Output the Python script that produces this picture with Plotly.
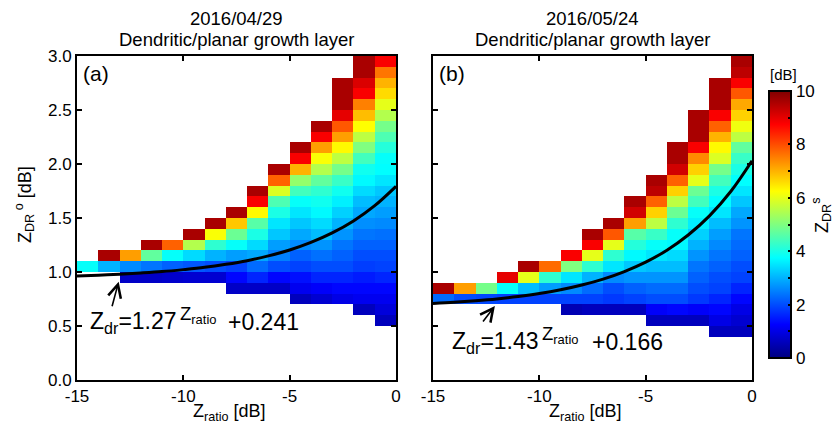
import plotly.graph_objects as go

# ---------------- data ----------------
X_CENTERS = [-14.5, -13.5, -12.5, -11.5, -10.5, -9.5, -8.5, -7.5,
             -6.5, -5.5, -4.5, -3.5, -2.5, -1.5, -0.5]
ROW_HEIGHT = 0.1
N_ROWS = 30

# panel (a): bottom edge of each column and cell values (bottom -> top), Z_DR^s [dB]
A_BOTTOM = [1.0, 1.0, 0.9, 0.9, 0.9, 0.9, 0.9, 0.8, 0.8, 0.8, 0.7, 0.7, 0.7, 0.6, 0.5]
A_VALUES = [
    [3.8],
    [3.0, 9.6],
    [0.7, 2.6, 7.2],
    [0.7, 2.4, 4.7, 9.6],
    [0.75, 2.2, 3.8, 7.8],
    [0.8, 2.1, 3.4, 5.5, 9.6],
    [0.8, 2.0, 3.0, 4.2, 6.2, 9.6],
    [0.7, 1.3, 1.9, 2.8, 3.8, 4.8, 6.8, 9.6],
    [0.7, 1.6, 2.3, 2.9, 3.4, 4.0, 4.6, 6.3, 8.8, 9.6],
    [0.7, 1.3, 2.0, 2.5, 2.8, 3.2, 3.5, 4.0, 4.5, 5.9, 7.8, 9.6],
    [0.6, 1.1, 1.4, 1.9, 2.2, 2.6, 2.9, 3.2, 3.5, 3.8, 4.4, 5.2, 7.0, 8.8, 9.6],
    [0.8, 1.2, 1.6, 2.0, 2.35, 2.7, 3.1, 3.4, 3.7, 3.9, 4.2, 4.7, 5.5, 6.2, 7.2, 8.8, 9.6],
    [1.0, 1.3, 1.6, 2.0, 2.2, 2.4, 2.7, 3.0, 3.3, 3.6, 3.9, 4.3, 4.9, 5.6, 6.3, 7.2, 7.9,
     9.0, 9.6, 9.6, 9.6],
    [0.6, 1.1, 1.3, 1.5, 1.85, 2.0, 2.2, 2.4, 2.65, 2.9, 3.1, 3.4, 3.7, 3.9, 4.4, 5.0,
     5.6, 6.25, 6.9, 7.5, 8.8, 9.1, 9.6, 9.6],
    [0.6, 0.9, 1.1, 1.3, 1.6, 1.9, 2.0, 2.2, 2.35, 2.6, 2.8, 3.0, 3.2, 3.5, 3.75, 3.8,
     4.1, 4.5, 4.9, 5.5, 6.0, 6.6, 7.0, 7.6, 8.8],
]

# panel (b)
B_BOTTOM = [0.7, 0.7, 0.7, 0.7, 0.7, 0.7, 0.6, 0.6, 0.6, 0.6, 0.5, 0.5, 0.5, 0.4, 0.4]
B_VALUES = [
    [2.3, 9.6],
    [2.0, 7.2],
    [1.95, 4.9],
    [1.9, 3.8, 9.0],
    [1.9, 3.1, 6.0, 9.6],
    [1.9, 2.8, 4.2, 7.7],
    [0.5, 1.9, 2.6, 3.5, 5.0, 8.8],
    [0.6, 1.9, 2.3, 3.0, 4.2, 6.0, 8.8, 9.6],
    [0.6, 1.8, 2.0, 2.6, 3.5, 4.2, 6.0, 7.9, 9.6],
    [0.6, 1.9, 2.2, 2.7, 3.2, 3.7, 4.1, 4.6, 7.2, 9.2, 9.6],
    [0.6, 1.2, 2.0, 2.3, 2.7, 3.1, 3.5, 3.8, 4.3, 5.6, 6.7, 7.8, 9.4, 9.6],
    [0.6, 1.3, 2.0, 2.3, 2.7, 3.1, 3.4, 3.7, 3.8, 4.2, 4.8, 5.6, 6.7, 7.8, 9.2, 9.6, 9.6],
    [0.6, 1.2, 1.8, 2.0, 2.2, 2.4, 2.7, 3.0, 3.3, 3.6, 3.8, 4.4, 4.8, 6.0, 6.7, 7.4, 8.8,
     9.6, 9.6, 9.6],
    [0.6, 1.0, 1.3, 1.6, 1.9, 2.0, 2.2, 2.4, 2.6, 2.8, 3.1, 3.5, 3.75, 4.0, 4.4, 4.9,
     5.9, 6.3, 7.0, 7.8, 8.8, 9.6, 9.6, 9.6],
    [0.6, 0.8, 1.0, 1.3, 1.6, 1.9, 2.0, 2.2, 2.3, 2.4, 2.7, 2.9, 3.2, 3.5, 3.75, 4.0,
     4.3, 4.7, 5.6, 6.1, 6.7, 7.1, 7.9, 8.8, 9.4, 9.6],
]

# fitted curves Z_dr (at each integer Z_ratio)
CURVE_X = [-15, -14, -13, -12, -11, -10, -9, -8, -7, -6, -5, -4, -3, -2, -1, 0]
CURVE_A = [0.964, 0.971, 0.980, 0.991, 1.004, 1.022, 1.043, 1.071, 1.105, 1.149,
           1.204, 1.274, 1.362, 1.473, 1.614, 1.793]
CURVE_B = [0.709, 0.720, 0.734, 0.751, 0.773, 0.800, 0.835, 0.879, 0.934, 1.004,
           1.091, 1.202, 1.343, 1.520, 1.745, 2.030]

TITLES = ["2016/04/29", "2016/05/24"]
SUBTITLE = "Dendritic/planar growth layer"
PANEL_TAGS = ["(a)", "(b)"]
FORMULA_BASE = ["Z<sub>dr</sub>=1.27", "Z<sub>dr</sub>=1.43"]
FORMULA_OFFSET = ["+0.241", "+0.166"]
Y_TICKS = [0.0, 0.5, 1.0, 1.5, 2.0, 2.5, 3.0]
X_TICKS = [-15, -10, -5, 0]
X_TICKTEXT = ["-15", "-10", "-5", "0"]

# ---------------- helpers ----------------
W, H = 840, 431
FONT = "Liberation Sans, Arial, sans-serif"
JET = [[0.0, "rgb(0,0,128)"], [0.125, "rgb(0,0,255)"], [0.375, "rgb(0,255,255)"],
       [0.625, "rgb(255,255,0)"], [0.875, "rgb(255,0,0)"], [1.0, "rgb(128,0,0)"]]

Y_CENTERS = [round((i + 0.5) * ROW_HEIGHT, 3) for i in range(N_ROWS)]


def build_grid(bottoms, values):
    grid = [[None] * len(bottoms) for _ in range(N_ROWS)]
    for c, (b, vals) in enumerate(zip(bottoms, values)):
        start = int(round(b / ROW_HEIGHT))
        for k, v in enumerate(vals):
            grid[start + k][c] = v
    return grid


def px(x):
    return x / W


def py(y):
    return 1 - y / H


# plot area geometry (pixels)
PA = (77, 396)
PB = (433, 752)
PY = (56, 380)

fig = go.Figure()

fig.add_trace(go.Heatmap(x=X_CENTERS, y=Y_CENTERS, z=build_grid(A_BOTTOM, A_VALUES),
                         colorscale=JET, zmin=0, zmax=10, showscale=False,
                         xaxis="x", yaxis="y", hoverongaps=False))
fig.add_trace(go.Heatmap(
    x=X_CENTERS, y=Y_CENTERS, z=build_grid(B_BOTTOM, B_VALUES),
    colorscale=JET, zmin=0, zmax=10, xaxis="x2", yaxis="y2", hoverongaps=False,
    colorbar=dict(
        x=px(769), xanchor="left", xpad=0, ypad=0,
        y=py(358), yanchor="bottom", len=(358 - 91) / H, lenmode="fraction",
        thickness=22, thicknessmode="pixels",
        outlinewidth=2, outlinecolor="black",
        tickmode="linear", tick0=0, dtick=1, ticklabelstep=2,
        ticks="inside", ticklen=4, tickwidth=1.5, tickcolor="black",
        tickfont=dict(size=17, color="black", family=FONT),
    )))

fig.add_trace(go.Scatter(x=CURVE_X, y=CURVE_A, mode="lines", xaxis="x", yaxis="y",
                         line=dict(color="black", width=3, shape="spline"),
                         showlegend=False))
fig.add_trace(go.Scatter(x=CURVE_X, y=CURVE_B, mode="lines", xaxis="x2", yaxis="y2",
                         line=dict(color="black", width=3, shape="spline"),
                         showlegend=False))

axis_common = dict(showline=True, linewidth=2, linecolor="black", mirror="allticks",
                   ticks="inside", ticklen=5, tickwidth=1.5, tickcolor="black",
                   showgrid=False, zeroline=False, automargin=False,
                   tickfont=dict(size=17, color="black", family=FONT))

fig.update_layout(
    width=W, height=H, margin=dict(l=0, r=0, t=0, b=0, autoexpand=False),
    paper_bgcolor="white", plot_bgcolor="white", showlegend=False,
    font=dict(family=FONT, color="black"),
    xaxis=dict(domain=[px(PA[0]), px(PA[1])], range=[-15, 0], anchor="y",
               tickvals=X_TICKS, ticktext=X_TICKTEXT, **axis_common),
    yaxis=dict(domain=[py(PY[1]), py(PY[0])], range=[0, 3], anchor="x",
               tickvals=Y_TICKS, tickformat=".1f", **axis_common),
    xaxis2=dict(domain=[px(PB[0]), px(PB[1])], range=[-15, 0], anchor="y2",
                tickvals=X_TICKS, ticktext=X_TICKTEXT, **axis_common),
    yaxis2=dict(domain=[py(PY[1]), py(PY[0])], range=[0, 3], anchor="x2",
                tickvals=Y_TICKS, showticklabels=False, **axis_common),
)

ann = []


def text(x, y, s, size, xanchor="center", yanchor="middle", angle=0):
    ann.append(dict(x=px(x), y=py(y), xref="paper", yref="paper", text=s,
                    showarrow=False, xanchor=xanchor, yanchor=yanchor,
                    textangle=angle, font=dict(size=size, color="black", family=FONT)))


for i, (x0, x1) in enumerate([PA, PB]):
    cx = (x0 + x1) / 2
    text(cx, 18, TITLES[i], 18.5)
    text(cx, 39, SUBTITLE, 18.5)
    text(cx - 7, 412, "Z<sub>ratio</sub> [dB]", 18)
    text(x0 + 4, 73, PANEL_TAGS[i], 21, xanchor="left")

text(24, 205, "Z<sub>DR</sub><sup> o</sup> [dB]", 18, angle=-90)
text(783, 75, "[dB]", 15)
text(821, 215, "Z<sub>DR</sub><sup>s</sup>", 18, angle=-90)

# formulas
text(88, 322, FORMULA_BASE[0], 23, xanchor="left")
text(178, 315, "Z<sub>ratio</sub>", 18.5, xanchor="left")
text(226, 322, FORMULA_OFFSET[0], 23, xanchor="left")
text(450, 342, FORMULA_BASE[1], 23, xanchor="left")
text(540, 335, "Z<sub>ratio</sub>", 18.5, xanchor="left")
text(590, 342, FORMULA_OFFSET[1], 23, xanchor="left")

# arrows
ann.append(dict(x=-13.04, y=0.91, xref="x", yref="y", ax=-7, ay=26, text="",
                showarrow=True, arrowhead=5, arrowsize=1.6, arrowwidth=1.6,
                arrowcolor="black"))
ann.append(dict(x=-12.09, y=0.685, xref="x2", yref="y2", ax=-13, ay=17, text="",
                showarrow=True, arrowhead=5, arrowsize=1.6, arrowwidth=1.6,
                arrowcolor="black"))

fig.update_layout(annotations=ann)
fig.write_html("out.html", config={"displayModeBar": False},
               post_script="document.body.style.margin='0px';"
                           "document.body.style.padding='0px';")
